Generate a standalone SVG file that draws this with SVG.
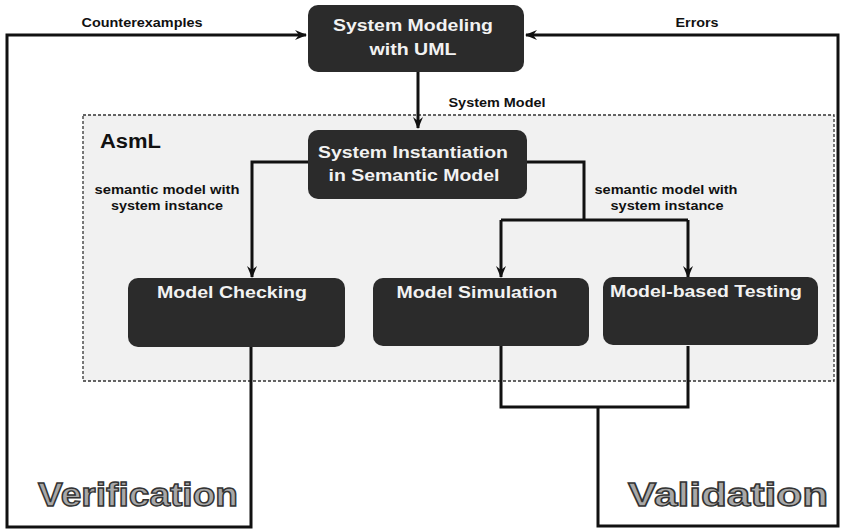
<svg xmlns="http://www.w3.org/2000/svg" width="842" height="529" viewBox="0 0 842 529">
<defs>
<marker id="arr" viewBox="0 0 12 10" refX="11" refY="5" markerWidth="12" markerHeight="10" markerUnits="userSpaceOnUse" orient="auto">
<path d="M0,0 L12,5 L0,10 L4,5 z" fill="#111"/>
</marker>
<style>
.box{fill:#2b2b2b;stroke:none}
.bt{font-family:"Liberation Sans",Arial,sans-serif;font-weight:bold;font-size:17px;fill:#f2f2f2;text-anchor:middle}
.lbl{font-family:"Liberation Sans",Arial,sans-serif;font-weight:bold;font-size:12px;fill:#111;text-anchor:middle}
.ln{fill:none;stroke:#111;stroke-width:3;stroke-linejoin:miter}
.big{font-family:"Liberation Sans",Arial,sans-serif;font-weight:bold;font-size:34px;fill:#a8a8a8;stroke:#333;stroke-width:1.4;text-anchor:middle}
</style>
</defs>
<rect width="842" height="529" fill="#ffffff"/>
<g id="asml">
<rect x="83" y="115" width="751" height="266" fill="#f1f1f1" stroke="#333" stroke-width="1.3" stroke-dasharray="3,2"/>
<text x="100" y="148" font-family="'Liberation Sans',Arial,sans-serif" font-weight="bold" font-size="20" fill="#111" textLength="61" lengthAdjust="spacingAndGlyphs">AsmL</text>
</g>
<g id="connectors">
<path class="ln" d="M251,347 L251,527 L7,527 L7,35 L306,35" marker-end="url(#arr)"/>
<path class="ln" d="M688,346 L688,407 L501,407 L501,346 M598,407 L598,526 L838,526 L838,35 L526,35" marker-end="url(#arr)"/>
<path class="ln" d="M418,72 L418,128" marker-end="url(#arr)"/>
<path class="ln" d="M308,162 L252,162 L252,277" marker-end="url(#arr)"/>
<path class="ln" d="M527,162 L584,162 L584,220"/>
<path class="ln" d="M501,220 L688,220"/>
<path class="ln" d="M501,220 L501,277" marker-end="url(#arr)"/>
<path class="ln" d="M688,220 L688,277" marker-end="url(#arr)"/>
<text class="lbl" x="142" y="27" textLength="121" lengthAdjust="spacingAndGlyphs">Counterexamples</text>
<text class="lbl" x="697" y="27" textLength="43" lengthAdjust="spacingAndGlyphs">Errors</text>
<text class="lbl" x="497" y="107" textLength="97" lengthAdjust="spacingAndGlyphs">System Model</text>
<text class="lbl" x="167" y="194" textLength="145" lengthAdjust="spacingAndGlyphs">semantic model with</text>
<text class="lbl" x="167" y="210" textLength="112" lengthAdjust="spacingAndGlyphs">system instance</text>
<text class="lbl" x="666" y="194" textLength="143" lengthAdjust="spacingAndGlyphs">semantic model with</text>
<text class="lbl" x="667" y="210" textLength="113" lengthAdjust="spacingAndGlyphs">system instance</text>
</g>
<g id="n-uml">
<rect class="box" x="308" y="5" width="216" height="67" rx="10"/>
<text class="bt" x="413" y="31" textLength="160" lengthAdjust="spacingAndGlyphs">System Modeling</text>
<text class="bt" x="413" y="55" textLength="87" lengthAdjust="spacingAndGlyphs">with UML</text>
</g>
<g id="n-inst">
<rect class="box" x="308" y="130" width="219" height="69" rx="10"/>
<text class="bt" x="413" y="158" textLength="190" lengthAdjust="spacingAndGlyphs">System Instantiation</text>
<text class="bt" x="414" y="181" textLength="171" lengthAdjust="spacingAndGlyphs">in Semantic Model</text>
</g>
<g id="n-check">
<rect class="box" x="128" y="278" width="217" height="69" rx="10"/>
<text class="bt" x="232" y="298" textLength="150" lengthAdjust="spacingAndGlyphs">Model Checking</text>
</g>
<g id="n-sim">
<rect class="box" x="373" y="278" width="216" height="68" rx="10"/>
<text class="bt" x="477" y="298" textLength="161" lengthAdjust="spacingAndGlyphs">Model Simulation</text>
</g>
<g id="n-test">
<rect class="box" x="603" y="277" width="215" height="68" rx="10"/>
<text class="bt" x="706" y="297" textLength="192" lengthAdjust="spacingAndGlyphs">Model-based Testing</text>
</g>
<g id="labels">
<text class="big" x="138" y="506" textLength="200" lengthAdjust="spacingAndGlyphs">Verification</text>
<text class="big" x="728" y="506" textLength="200" lengthAdjust="spacingAndGlyphs">Validation</text>
</g>
</svg>
